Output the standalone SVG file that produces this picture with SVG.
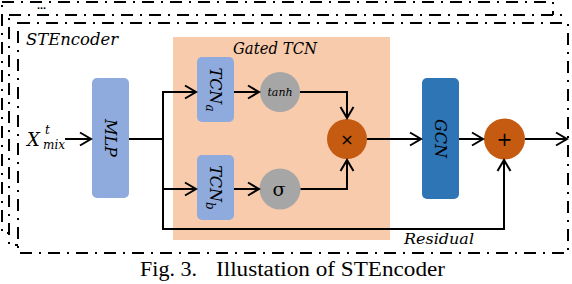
<svg xmlns="http://www.w3.org/2000/svg" width="572" height="284" viewBox="0 0 572 284">
<style>
.frame{fill:#fff;stroke:#000;stroke-width:2;stroke-dasharray:12 7 2 7}
.lbl{font-family:"DejaVu Serif","Liberation Serif",serif;font-style:italic;fill:#000}
.box{stroke:none}
.conn path{fill:none;stroke:#000;stroke-width:2}
.cap{font-family:"Liberation Serif","Times New Roman",serif;font-size:20.5px;fill:#000}
</style>
<defs>
<marker id="ah" markerUnits="userSpaceOnUse" markerWidth="14" markerHeight="16" viewBox="0 0 14 16" refX="12" refY="8" orient="auto">
<path d="M1,1.5 L12,8 L1,14.5" fill="none" stroke="#000" stroke-width="2"/>
</marker>
</defs>
<g id="frames">
<rect class="frame" x="2" y="2" width="551" height="231"/>
<text x="37" y="9" font-family="Liberation Sans,sans-serif" font-size="11" font-weight="bold">...</text>
<rect class="frame" x="9" y="15" width="552" height="230"/>
<rect class="frame" x="18" y="23" width="550" height="230"/>
<text class="lbl" x="26" y="45" font-size="17" textLength="92" lengthAdjust="spacingAndGlyphs">STEncoder</text>
</g>
<g id="gated-tcn">
<rect x="173" y="37" width="217" height="203" fill="#f8cbad"/>
<text class="lbl" x="275" y="54" font-size="16" text-anchor="middle" textLength="84" lengthAdjust="spacingAndGlyphs">Gated TCN</text>
</g>
<g id="input">
<text class="lbl" x="27" y="146" font-size="18">X</text>
<text class="lbl" x="45" y="134" font-size="12">t</text>
<text class="lbl" x="43" y="149" font-size="13.5" textLength="22" lengthAdjust="spacingAndGlyphs">mix</text>
</g>
<g id="mlp">
<rect class="box" x="92" y="78" width="37" height="120" rx="5" fill="#8faadc"/>
<text class="lbl" x="110.5" y="144" font-size="16" text-anchor="middle" transform="rotate(90 110.5 138)">MLP</text>
</g>
<g id="tcn-a">
<rect class="box" x="197" y="57" width="37" height="65" rx="5" fill="#8faadc"/>
<text class="lbl" x="215.5" y="95" font-size="16" text-anchor="middle" transform="rotate(90 215.5 89.5)">TCN<tspan font-size="12" dy="4">a</tspan></text>
</g>
<g id="tcn-b">
<rect class="box" x="197" y="155" width="37" height="65" rx="5" fill="#8faadc"/>
<text class="lbl" x="215.5" y="193" font-size="16" text-anchor="middle" transform="rotate(90 215.5 187.5)">TCN<tspan font-size="12" dy="4">b</tspan></text>
</g>
<g id="tanh">
<circle cx="280" cy="92" r="20" fill="#a6a6a6"/>
<text class="lbl" x="280" y="96" font-size="11" text-anchor="middle">tanh</text>
</g>
<g id="sigma">
<circle cx="280" cy="189" r="20.5" fill="#a6a6a6"/>
<text x="279" y="196" font-family="DejaVu Serif,serif" font-size="19" text-anchor="middle">σ</text>
</g>
<g id="mul">
<circle cx="347" cy="139" r="20" fill="#c55a11"/>
<text x="347" y="145" font-family="DejaVu Sans,sans-serif" font-size="16" text-anchor="middle">×</text>
</g>
<g id="gcn">
<rect class="box" x="422" y="78" width="37" height="121" rx="5" fill="#2e75b6"/>
<text class="lbl" x="440.5" y="144.5" font-size="16" text-anchor="middle" fill="#1a1a1a" transform="rotate(90 440.5 138.5)">GCN</text>
</g>
<g id="add">
<circle cx="504.5" cy="139" r="20.5" fill="#c55a11"/>
<text x="504.5" y="146" font-family="DejaVu Sans,sans-serif" font-size="19" text-anchor="middle">+</text>
</g>
<g class="conn" id="connectors">
<path d="M65,139 H91" marker-end="url(#ah)"/>
<path d="M129,139 H163"/>
<path d="M163,139 V92 H196" marker-end="url(#ah)"/>
<path d="M163,189 H196" marker-end="url(#ah)"/>
<path d="M163,139 V229 H504 V160" marker-end="url(#ah)"/>
<path d="M234,92 H259" marker-end="url(#ah)"/>
<path d="M234,189 H259" marker-end="url(#ah)"/>
<path d="M300,92 H347 V118" marker-end="url(#ah)"/>
<path d="M300.5,189 H347 V160" marker-end="url(#ah)"/>
<path d="M367,139 H421" marker-end="url(#ah)"/>
<path d="M459,139 H483" marker-end="url(#ah)"/>
<path d="M525,139 H567" marker-end="url(#ah)"/>
</g>
<text class="lbl" x="404" y="244" font-size="15" textLength="70" lengthAdjust="spacingAndGlyphs">Residual</text>
<text class="cap" y="276"><tspan x="140" textLength="57" lengthAdjust="spacingAndGlyphs">Fig. 3.</tspan><tspan x="216" textLength="229" lengthAdjust="spacingAndGlyphs">Illustation of STEncoder</tspan></text>
</svg>
